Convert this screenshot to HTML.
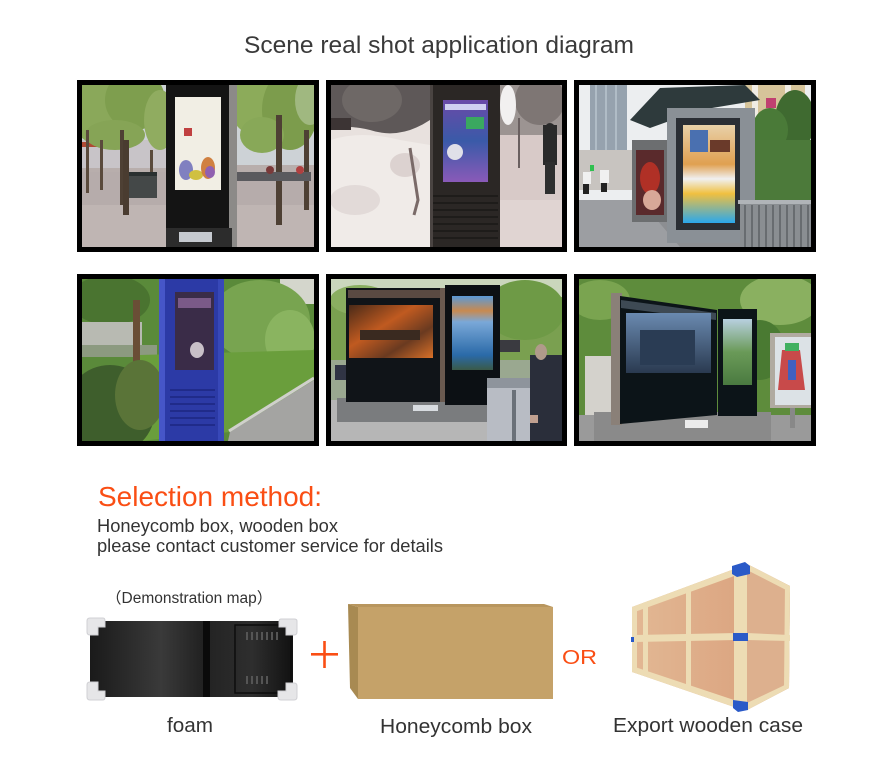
<!DOCTYPE html>
<html><head><meta charset="utf-8"><style>
html,body{margin:0;padding:0;background:#fff;width:882px;height:769px;overflow:hidden;}
svg{display:block;}
text{font-family:"Liberation Sans","Noto Sans CJK SC",sans-serif;}
</style></head><body>
<svg width="882" height="769" viewBox="0 0 882 769" xmlns="http://www.w3.org/2000/svg">
<defs>
<clipPath id="c1"><rect x="82" y="85" width="232" height="162"/></clipPath>
<clipPath id="c2"><rect x="331" y="85" width="231" height="162"/></clipPath>
<clipPath id="c3"><rect x="579" y="85" width="232" height="162"/></clipPath>
<clipPath id="c4"><rect x="82" y="279" width="232" height="162"/></clipPath>
<clipPath id="c5"><rect x="331" y="279" width="231" height="162"/></clipPath>
<clipPath id="c6"><rect x="579" y="279" width="232" height="162"/></clipPath>
<linearGradient id="scr2" x1="0" y1="0" x2="0" y2="1"><stop offset="0" stop-color="#6a4aa8"/><stop offset="0.5" stop-color="#3a5aa8"/><stop offset="1" stop-color="#8a5ab8"/></linearGradient>
<linearGradient id="scr3" x1="0" y1="0" x2="0" y2="1"><stop offset="0" stop-color="#e8d0a8"/><stop offset="0.4" stop-color="#e0a050"/><stop offset="0.55" stop-color="#f0f0f0"/><stop offset="0.7" stop-color="#f0c040"/><stop offset="1" stop-color="#2aa8ec"/></linearGradient>
<linearGradient id="scr5a" x1="0" y1="0" x2="1" y2="1"><stop offset="0" stop-color="#4a2a18"/><stop offset="0.4" stop-color="#c05a20"/><stop offset="0.7" stop-color="#6a3a20"/><stop offset="1" stop-color="#d87028"/></linearGradient>
<linearGradient id="scr5b" x1="0" y1="0" x2="0" y2="1"><stop offset="0" stop-color="#5a9ad8"/><stop offset="0.2" stop-color="#c88a50"/><stop offset="0.35" stop-color="#7aa8d8"/><stop offset="0.8" stop-color="#2a6aa8"/><stop offset="1" stop-color="#3a5a48"/></linearGradient>
<linearGradient id="scr6" x1="0" y1="0" x2="0" y2="1"><stop offset="0" stop-color="#6a8ab0"/><stop offset="1" stop-color="#2a3a50"/></linearGradient>
<linearGradient id="scr6b" x1="0" y1="0" x2="0" y2="1"><stop offset="0" stop-color="#b8d0e0"/><stop offset="0.5" stop-color="#6a9a58"/><stop offset="1" stop-color="#4a7a40"/></linearGradient>
<linearGradient id="foamg" x1="0" y1="0" x2="1" y2="0"><stop offset="0" stop-color="#1a1a1a"/><stop offset="0.35" stop-color="#3a3a3a"/><stop offset="0.55" stop-color="#222"/><stop offset="0.8" stop-color="#2e2e2e"/><stop offset="1" stop-color="#111"/></linearGradient>
<linearGradient id="ply" x1="0" y1="0" x2="1" y2="0"><stop offset="0" stop-color="#e2b894"/><stop offset="1" stop-color="#dca682"/></linearGradient>
</defs>

<text x="244" y="53" font-size="24.5" fill="#3a3a3a" textLength="390" lengthAdjust="spacingAndGlyphs">Scene real shot application diagram</text>

<!-- frames -->
<rect x="77" y="80" width="242" height="172" fill="#000"/>
<rect x="326" y="80" width="241" height="172" fill="#000"/>
<rect x="574" y="80" width="242" height="172" fill="#000"/>
<rect x="77" y="274" width="242" height="172" fill="#000"/>
<rect x="326" y="274" width="241" height="172" fill="#000"/>
<rect x="574" y="274" width="242" height="172" fill="#000"/>

<!-- Photo 1 -->
<g clip-path="url(#c1)">
<rect x="82" y="85" width="232" height="162" fill="#b8aeac"/>
<rect x="82" y="85" width="232" height="80" fill="#cdd2d6"/>
<rect x="82" y="140" width="90" height="28" fill="#c8c4c8"/>
<rect x="82" y="142" width="28" height="5" fill="#b04a34"/>
<ellipse cx="100" cy="110" rx="30" ry="35" fill="#8aa85a"/>
<ellipse cx="135" cy="100" rx="30" ry="30" fill="#7e9e4e"/>
<ellipse cx="160" cy="120" rx="16" ry="30" fill="#90ac60"/>
<ellipse cx="115" cy="135" rx="30" ry="15" fill="#86a456"/>
<ellipse cx="255" cy="105" rx="25" ry="30" fill="#8cab5a"/>
<ellipse cx="290" cy="110" rx="28" ry="40" fill="#7c9c4c"/>
<ellipse cx="262" cy="135" rx="22" ry="18" fill="#88a858"/>
<ellipse cx="310" cy="100" rx="15" ry="25" fill="#a0b880"/>
<rect x="82" y="172" width="232" height="75" fill="#b6acab"/>
<rect x="82" y="205" width="232" height="42" fill="#bfb5b3"/>
<rect x="86" y="130" width="3" height="63" fill="#5a4a3c"/>
<rect x="100" y="140" width="3" height="50" fill="#5a4a3c"/>
<rect x="120" y="130" width="4" height="75" fill="#4e4034"/>
<rect x="123" y="140" width="6" height="75" fill="#4a3c30"/>
<rect x="150" y="150" width="3" height="40" fill="#5a4a3c"/>
<rect x="276" y="115" width="6" height="110" fill="#4e4034"/>
<rect x="304" y="130" width="5" height="80" fill="#4e4034"/>
<rect x="129" y="172" width="28" height="26" fill="#444848"/>
<rect x="129" y="172" width="28" height="4" fill="#2a3030"/>
<rect x="236" y="172" width="75" height="9" fill="#5a5a5e"/>
<circle cx="270" cy="170" r="4" fill="#7a3a3a"/>
<circle cx="300" cy="170" r="4" fill="#b04040"/>
<rect x="166" y="85" width="66" height="145" fill="#141414"/>
<rect x="229" y="85" width="8" height="162" fill="#8c8a88"/>
<rect x="166" y="228" width="66" height="19" fill="#2c2c2c"/>
<rect x="179" y="232" width="33" height="10" fill="#c6cad0"/>
<rect x="175" y="97" width="46" height="93" fill="#f1eee4"/>
<rect x="184" y="128" width="8" height="8" fill="#c04040"/>
<ellipse cx="186" cy="170" rx="7" ry="10" fill="#8080c0"/>
<ellipse cx="196" cy="175" rx="7" ry="5" fill="#d0c040"/>
<ellipse cx="208" cy="168" rx="7" ry="11" fill="#d08040"/>
<ellipse cx="210" cy="172" rx="5" ry="6" fill="#9060b0"/>
</g>

<!-- Photo 2 -->
<g clip-path="url(#c2)">
<rect x="331" y="85" width="231" height="162" fill="#e8e1de"/>
<path d="M331 85 H430 V120 Q400 140 370 130 Q350 125 331 128 Z" fill="#5e5858"/>
<ellipse cx="372" cy="100" rx="30" ry="22" fill="#6e6866"/>
<rect x="331" y="118" width="20" height="12" fill="#3c3434"/>
<path d="M331 140 Q360 130 400 140 L430 145 V247 H331 Z" fill="#f0ebe8"/>
<ellipse cx="355" cy="200" rx="25" ry="15" fill="#e2dad8"/>
<ellipse cx="405" cy="165" rx="15" ry="12" fill="#dcd2d0"/>
<path d="M410 148 L418 200 L414 215" stroke="#7a6a68" stroke-width="3" fill="none"/>
<rect x="500" y="85" width="62" height="55" fill="#9c9492"/>
<ellipse cx="540" cy="100" rx="25" ry="25" fill="#7e7674"/>
<ellipse cx="508" cy="105" rx="8" ry="20" fill="#f2f0f0"/>
<rect x="500" y="135" width="62" height="112" fill="#d8cac8"/>
<rect x="500" y="200" width="62" height="47" fill="#e0d4d2"/>
<rect x="518" y="118" width="2" height="50" fill="#6a6060"/>
<rect x="543" y="125" width="14" height="40" fill="#2a2a2a"/>
<circle cx="550" cy="128" r="5" fill="#2a2a2a"/>
<rect x="545" y="162" width="10" height="32" fill="#2e2e2e"/>
<rect x="430" y="85" width="70" height="162" fill="#2b2725"/>
<rect x="430" y="85" width="3" height="162" fill="#4a4442"/>
<rect x="443" y="100" width="45" height="82" fill="url(#scr2)"/>
<rect x="445" y="104" width="41" height="6" fill="#d0d0f0"/>
<rect x="466" y="117" width="18" height="12" fill="#3aa860"/>
<circle cx="455" cy="152" r="8" fill="#e0e0e8"/>
<g stroke="#1a1816" stroke-width="1.5">
<line x1="433" y1="196" x2="498" y2="196"/><line x1="433" y1="203" x2="498" y2="203"/><line x1="433" y1="210" x2="498" y2="210"/><line x1="433" y1="217" x2="498" y2="217"/><line x1="433" y1="224" x2="498" y2="224"/><line x1="433" y1="231" x2="498" y2="231"/><line x1="433" y1="238" x2="498" y2="238"/>
</g>
</g>

<!-- Photo 3 -->
<g clip-path="url(#c3)">
<rect x="579" y="85" width="232" height="162" fill="#eceef0"/>
<rect x="590" y="85" width="37" height="85" fill="#96a2ae"/>
<rect x="595" y="85" width="2" height="85" fill="#b0bcc6"/>
<rect x="605" y="85" width="2" height="85" fill="#b0bcc6"/>
<rect x="615" y="85" width="2" height="85" fill="#b0bcc6"/>
<rect x="579" y="150" width="60" height="40" fill="#c8c4c0"/>
<rect x="745" y="85" width="60" height="50" fill="#d6c49a"/>
<rect x="766" y="98" width="10" height="10" fill="#c04070"/>
<rect x="752" y="85" width="6" height="60" fill="#f0ece4"/>
<rect x="785" y="85" width="6" height="60" fill="#f0ece4"/>
<ellipse cx="795" cy="120" rx="20" ry="30" fill="#3f6a30"/>
<ellipse cx="770" cy="130" rx="18" ry="22" fill="#4a7a38"/>
<rect x="755" y="140" width="56" height="65" fill="#4c7a3a"/>
<path d="M630 120 L660 88 L745 85 L760 100 L700 110 L650 128 Z" fill="#2e3a3c"/>
<rect x="579" y="200" width="232" height="47" fill="#8c8e92"/>
<path d="M579 200 L640 200 L680 247 L579 247 Z" fill="#9c9ea2"/>
<rect x="583" y="172" width="8" height="12" fill="#f0f0f0"/>
<rect x="583" y="184" width="6" height="10" fill="#222"/>
<rect x="600" y="170" width="9" height="13" fill="#f0f0f0"/>
<rect x="601" y="183" width="6" height="9" fill="#222"/>
<rect x="590" y="165" width="4" height="6" fill="#30c050"/>
<rect x="632" y="140" width="36" height="82" fill="#6c6e70"/>
<rect x="636" y="150" width="28" height="65" fill="#5a2a2c"/>
<ellipse cx="650" cy="178" rx="10" ry="16" fill="#b03026"/>
<ellipse cx="652" cy="200" rx="9" ry="10" fill="#d8a898"/>
<rect x="667" y="108" width="88" height="135" fill="#8a9096"/>
<rect x="676" y="118" width="64" height="112" fill="#2a2e34"/>
<rect x="683" y="125" width="52" height="98" fill="url(#scr3)"/>
<rect x="690" y="130" width="18" height="22" fill="#4a70b0"/>
<rect x="710" y="140" width="20" height="12" fill="#6a3a2a"/>
<rect x="740" y="200" width="71" height="47" fill="#8a8e92"/>
<g stroke="#5c6064" stroke-width="1.5">
<line x1="745" y1="205" x2="745" y2="247"/><line x1="752" y1="205" x2="752" y2="247"/><line x1="759" y1="205" x2="759" y2="247"/><line x1="766" y1="205" x2="766" y2="247"/><line x1="773" y1="205" x2="773" y2="247"/><line x1="780" y1="205" x2="780" y2="247"/><line x1="787" y1="205" x2="787" y2="247"/><line x1="794" y1="205" x2="794" y2="247"/><line x1="801" y1="205" x2="801" y2="247"/><line x1="808" y1="205" x2="808" y2="247"/>
</g>
<rect x="738" y="200" width="73" height="4" fill="#b0b4b8"/>
</g>

<!-- Photo 4 -->
<g clip-path="url(#c4)">
<rect x="82" y="279" width="232" height="162" fill="#5a8a3a"/>
<rect x="280" y="279" width="34" height="25" fill="#d4d6cc"/>
<ellipse cx="110" cy="300" rx="40" ry="25" fill="#4a7430"/>
<ellipse cx="260" cy="320" rx="50" ry="40" fill="#78a450"/>
<ellipse cx="290" cy="340" rx="25" ry="30" fill="#8ab460"/>
<rect x="82" y="322" width="60" height="25" fill="#b8bab2"/>
<rect x="82" y="345" width="75" height="12" fill="#8c9a80"/>
<rect x="133" y="300" width="7" height="70" fill="#6a4e36"/>
<path d="M140 355 L314 350 L314 380 L230 432 L140 441 Z" fill="#6a9e3c"/>
<path d="M314 380 L230 432 L228 441 L314 441 Z" fill="#a4a4a2"/>
<path d="M314 378 L229 431" stroke="#d0d0cc" stroke-width="3"/>
<ellipse cx="110" cy="410" rx="45" ry="45" fill="#3e5e2c"/>
<ellipse cx="140" cy="395" rx="25" ry="35" fill="#5a7438"/>
<rect x="159" y="279" width="65" height="162" fill="#2c3aa6"/>
<rect x="159" y="279" width="6" height="162" fill="#4656c8"/>
<rect x="218" y="279" width="6" height="162" fill="#3848b8"/>
<rect x="175" y="292" width="39" height="78" fill="#3a2c48"/>
<rect x="178" y="298" width="33" height="10" fill="#7a5a88"/>
<ellipse cx="197" cy="350" rx="7" ry="8" fill="#c8c0c8"/>
<g stroke="#1c2680" stroke-width="1.5">
<line x1="170" y1="390" x2="215" y2="390"/><line x1="170" y1="397" x2="215" y2="397"/><line x1="170" y1="404" x2="215" y2="404"/><line x1="170" y1="411" x2="215" y2="411"/><line x1="170" y1="418" x2="215" y2="418"/><line x1="170" y1="425" x2="215" y2="425"/>
</g>
</g>

<!-- Photo 5 -->
<g clip-path="url(#c5)">
<rect x="331" y="279" width="231" height="162" fill="#7aa050"/>
<rect x="331" y="279" width="231" height="18" fill="#cad6bc"/>
<ellipse cx="360" cy="300" rx="30" ry="15" fill="#8aae60"/>
<ellipse cx="525" cy="310" rx="40" ry="30" fill="#6e9a46"/>
<rect x="331" y="360" width="231" height="40" fill="#9aa890"/>
<rect x="331" y="400" width="231" height="41" fill="#b6b6b6"/>
<rect x="337" y="398" width="165" height="24" fill="#7a7c7e"/>
<rect x="335" y="365" width="12" height="15" fill="#303444"/>
<rect x="346" y="288" width="96" height="114" fill="#101418"/>
<rect x="348" y="290" width="92" height="8" fill="#5a4a42"/>
<rect x="349" y="305" width="84" height="53" fill="url(#scr5a)"/>
<rect x="360" y="330" width="60" height="10" fill="#3a2a20"/>
<rect x="440" y="288" width="5" height="114" fill="#6a5a50"/>
<rect x="445" y="285" width="55" height="120" fill="#0c1014"/>
<rect x="452" y="296" width="41" height="74" fill="url(#scr5b)"/>
<rect x="413" y="405" width="25" height="6" fill="#d8dce0"/>
<rect x="487" y="378" width="54" height="63" fill="#b8bcc4"/>
<rect x="487" y="378" width="54" height="10" fill="#8e949c"/>
<rect x="512" y="390" width="4" height="51" fill="#6a7078"/>
<rect x="530" y="355" width="32" height="86" fill="#2a2e3a"/>
<ellipse cx="541" cy="352" rx="6" ry="8" fill="#b09a8a"/>
<rect x="530" y="415" width="8" height="8" fill="#c0a090"/>
<rect x="500" y="340" width="20" height="12" fill="#3a3a40"/>
</g>

<!-- Photo 6 -->
<g clip-path="url(#c6)">
<rect x="579" y="279" width="232" height="162" fill="#5e8c3c"/>
<ellipse cx="600" cy="300" rx="30" ry="20" fill="#7aa450"/>
<ellipse cx="780" cy="300" rx="40" ry="25" fill="#8ab060"/>
<ellipse cx="760" cy="350" rx="25" ry="30" fill="#4a7a32"/>
<rect x="585" y="356" width="30" height="64" fill="#d4d2cc"/>
<rect x="579" y="415" width="232" height="26" fill="#9a9a9a"/>
<rect x="594" y="412" width="177" height="29" fill="#8a8a8a"/>
<rect x="611" y="293" width="11" height="132" fill="#8a8078"/>
<path d="M620 296 L717 310 L717 415 L620 424 Z" fill="#0c1418"/>
<path d="M621 300 L716 313 L716 320 L621 308 Z" fill="#3e4a54"/>
<rect x="626" y="313" width="85" height="60" fill="url(#scr6)"/>
<rect x="640" y="330" width="55" height="35" fill="#2a3c54"/>
<rect x="718" y="309" width="39" height="107" fill="#0c1418"/>
<rect x="723" y="319" width="29" height="66" fill="url(#scr6b)"/>
<rect x="685" y="420" width="23" height="8" fill="#ececec"/>
<rect x="770" y="333" width="41" height="75" fill="#b0aaa0"/>
<rect x="775" y="337" width="36" height="68" fill="#dce2e6"/>
<path d="M782 350 L800 350 L805 390 L778 390 Z" fill="#c84a4a"/>
<rect x="785" y="343" width="14" height="8" fill="#40b060"/>
<rect x="788" y="360" width="8" height="20" fill="#4060c0"/>
<rect x="790" y="408" width="5" height="20" fill="#888"/>
</g>

<!-- Selection method -->
<text x="98" y="506" font-size="28" fill="#fa4e14" textLength="224" lengthAdjust="spacingAndGlyphs">Selection method:</text>
<text x="97" y="532" font-size="18" fill="#333" textLength="241" lengthAdjust="spacingAndGlyphs">Honeycomb box, wooden box</text>
<text x="97" y="552" font-size="18" fill="#333" textLength="346" lengthAdjust="spacingAndGlyphs">please contact customer service for details</text>
<text x="106" y="603" font-size="15.5" fill="#333">（Demonstration map）</text>

<!-- foam -->
<rect x="90" y="621" width="203" height="76" fill="url(#foamg)"/>
<rect x="203" y="621" width="7" height="76" fill="#0a0a0a"/>
<rect x="235" y="625" width="56" height="68" fill="none" stroke="#0c0c0c" stroke-width="1.5"/>
<g fill="#555"><rect x="246" y="632" width="2" height="8"/><rect x="251" y="632" width="2" height="8"/><rect x="256" y="632" width="2" height="8"/><rect x="261" y="632" width="2" height="8"/><rect x="266" y="632" width="2" height="8"/><rect x="271" y="632" width="2" height="8"/><rect x="276" y="632" width="2" height="8"/><rect x="246" y="676" width="2" height="8"/><rect x="251" y="676" width="2" height="8"/><rect x="256" y="676" width="2" height="8"/><rect x="261" y="676" width="2" height="8"/><rect x="266" y="676" width="2" height="8"/></g>
<g fill="#e6e6e8" stroke="#d0d0d4" stroke-width="1">
<path d="M87 621 Q87 618 90 618 H103 Q105 618 105 621 V627 H98 V635 H90 Q87 635 87 632 Z"/>
<path d="M297 621 Q297 619 294 619 H281 Q279 619 279 622 V627 H286 V635 H294 Q297 635 297 632 Z"/>
<path d="M87 697 Q87 700 90 700 H103 Q105 700 105 697 V691 H98 V682 H90 Q87 682 87 685 Z"/>
<path d="M297 697 Q297 700 294 700 H281 Q278 700 278 697 V691 H286 V683 H294 Q297 683 297 686 Z"/>
</g>
<text x="167" y="732" font-size="20" fill="#333" textLength="46" lengthAdjust="spacingAndGlyphs">foam</text>

<!-- plus -->
<rect x="311" y="653" width="27" height="2.6" fill="#fa4e14"/>
<rect x="323.2" y="641" width="2.6" height="27" fill="#fa4e14"/>

<!-- honeycomb box -->
<polygon points="348,604 358,607 358,699 350,688" fill="#a88a52"/>
<polygon points="348,604 544,604 553,607 358,607" fill="#b8965e"/>
<rect x="358" y="607" width="195" height="92" fill="#c5a269"/>
<text x="380" y="733" font-size="20" fill="#333" textLength="152" lengthAdjust="spacingAndGlyphs">Honeycomb box</text>

<text x="562" y="664" font-size="20" fill="#fa4e14" textLength="35" lengthAdjust="spacingAndGlyphs">OR</text>

<!-- wooden crate -->
<polygon points="632,607 737,568 737,708 632,672" fill="url(#ply)"/>
<polygon points="737,568 747,564 790,586 789,688 747,710 737,708" fill="#dcae8c"/>
<polygon points="747,564 790,586 789,688 747,710" fill="#ddb08e"/>
<g fill="#eddcb4">
<polygon points="632,607 737,568 737,575 632,613"/>
<polygon points="632,666 737,701 737,708 632,672"/>
<polygon points="632,635 737,633 737,640 632,642"/>
<polygon points="632,607 637,606 637,673 632,672"/>
<polygon points="643,603 648,601 648,676 643,675"/>
<polygon points="686,587 691,585 691,691 686,690"/>
<polygon points="734,569 747,564 747,710 734,707"/>
<polygon points="747,564 790,586 790,592 747,570"/>
<polygon points="747,633 790,635 790,641 747,640"/>
<polygon points="747,703 789,683 789,688 747,710"/>
<polygon points="785,585 790,586 789,688 784,689"/>
</g>
<g fill="#2a5ac8">
<polygon points="732,566 745,562 750,566 750,574 737,577 732,574"/>
<rect x="733" y="633" width="15" height="8"/>
<polygon points="733,700 748,702 748,710 738,712 733,708"/>
<rect x="631" y="637" width="3" height="5"/>
</g>
<text x="613" y="732" font-size="20" fill="#333" textLength="190" lengthAdjust="spacingAndGlyphs">Export wooden case</text>
</svg>
</body></html>
